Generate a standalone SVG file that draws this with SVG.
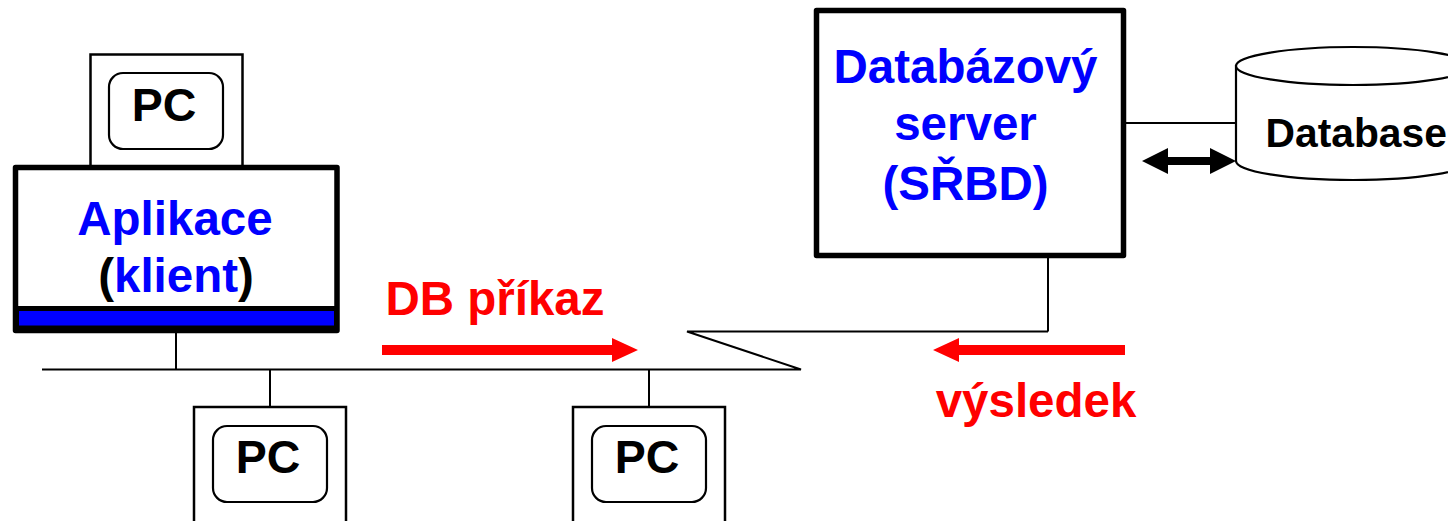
<svg xmlns="http://www.w3.org/2000/svg" width="1448" height="521" viewBox="0 0 1448 521">
<style>
text{font-family:"Liberation Sans",Arial,sans-serif;font-weight:700;text-anchor:middle}
.big{font-size:47.500px}.pc{font-size:46.500px;fill:#000}.blue{fill:#0000ff}.red{fill:#ff0000}
.box{fill:#fff;stroke:#000;stroke-width:2.5}
.inner{fill:#fff;stroke:#000;stroke-width:2.2}
.thick{fill:#fff;stroke:#000;stroke-width:5.500;stroke-linejoin:round}
.line{fill:none;stroke:#000;stroke-width:2}
</style>
<rect width="1448" height="521" fill="#fff"/>
<g id="connectors">
<path class="line" d="M176 333V369.5M42 369.5H801L687 331.5H1048M1048 258V331.5M270 369.5V407M649 369.5V407M1126 123H1236"/>
<path id="db-arrow" d="M1142 161L1168 148V157H1210V148L1236 161L1210 174V165H1168V174Z" fill="#000"/>
<path id="prikaz-arrow" class="red" d="M382 345H612V338L638 350L612 362V355H382Z"/>
<path id="vysledek-arrow" class="red" d="M933 350L959 338V345H1125V355H959V362Z"/>
</g>
<g id="pc-top">
<rect class="box" x="90.5" y="54.5" width="152" height="115"/>
<rect class="inner" x="109" y="73" width="114" height="76" rx="14"/>
<text class="pc" x="164" y="121">PC</text>
</g>
<g id="client">
<rect class="thick" x="15.500" y="167.500" width="321.500" height="163"/>
<rect x="15" y="306" width="322" height="26" fill="#000"/>
<rect x="19" y="311" width="315" height="14.500" fill="#0000ff"/>
<text class="big blue" x="175" y="235">Aplikace</text>
<text class="big" x="176" y="292"><tspan fill="#000">(</tspan><tspan class="blue">klient</tspan><tspan fill="#000">)</tspan></text>
</g>
<g id="pc-left">
<rect class="box" x="194" y="407" width="152" height="130"/>
<rect class="inner" x="213" y="426" width="114" height="76" rx="14"/>
<text class="pc" x="268" y="473">PC</text>
</g>
<g id="pc-right">
<rect class="box" x="573" y="407" width="152" height="130"/>
<rect class="inner" x="592" y="426" width="114" height="76" rx="14"/>
<text class="pc" x="647" y="473">PC</text>
</g>
<g id="server">
<rect class="thick" x="816.500" y="10.500" width="307" height="245"/>
<text class="big blue" x="965.500" y="83">Databázový</text>
<text class="big blue" x="965.500" y="140">server</text>
<text class="big blue" x="965.500" y="200">(SŘBD)</text>
</g>
<g id="database">
<path d="M1236 66V161A117 19 0 0 0 1470 161V66Z" fill="#fff" stroke="#000" stroke-width="2.200"/>
<ellipse cx="1353" cy="66" rx="117" ry="19" fill="#fff" stroke="#000" stroke-width="2.200"/>
<text x="1265.500" y="147" style="text-anchor:start;font-size:40.800px">Database</text>
</g>
<g id="labels">
<text class="big red" x="495" y="315">DB příkaz</text>
<text class="big red" x="1036" y="417">výsledek</text>
</g>
</svg>
